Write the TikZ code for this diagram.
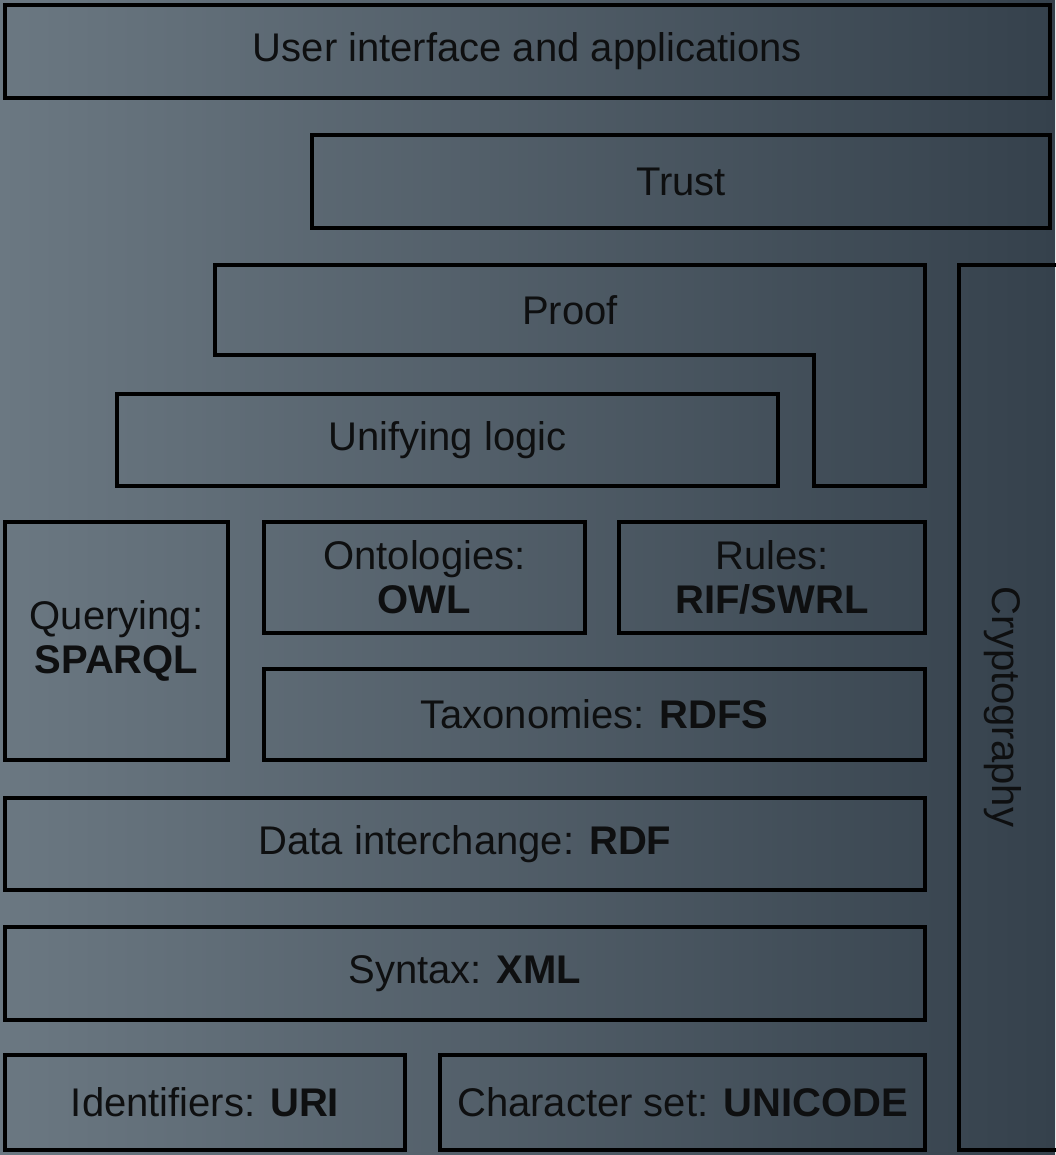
\documentclass[tikz,border=0pt]{standalone}
\usepackage{fontspec}
\setmainfont{Liberation Sans}

\definecolor{bglight}{HTML}{6B7882}
\definecolor{bgdark}{HTML}{35414C}
\definecolor{inkdark}{HTML}{0E0F10}

\begin{document}
\begin{tikzpicture} [x=0.5pt, y=-0.5pt,
   ink/.style = {text=inkdark, font=\fontsize{20}{22}\selectfont, align=center},
   layer/.style 2 args = {ink, draw=black, line width=2.2pt, inner sep=0pt,
                          minimum width=#1*0.5pt, minimum height=#2*0.5pt}]
   \useasboundingbox (0,0) rectangle (1055,1155);
   \shade[left color=bglight, right color=bgdark] (0,0) rectangle (1055,1155);

   \node (ui)[layer={1045}{93}] at (527.5,51.5) {User interface and applications};
   \node (trust)[layer={738}{93}] at (681,181.5) {Trust};

   % proof is an L shape round the unifying logic layer
   \draw[black, line width=2.2pt] (215,265) -| (925,486) -| (814,355) -| cycle;
   \node (proof)[ink] at (570,310) {Proof};
   \node (logic)[layer={661}{92}] at (447.5,440) {Unifying logic};

   \node (crypto)[layer={106}{885}] at (1012,707.5) {};
   \node (cryptolabel)[ink, rotate=-90] at (1003,707) {Cryptography};

   \node (query)[layer={223}{238}] at (116.5,641) {Querying:\\ \textbf{SPARQL}};
   \node (owl)[layer={321}{111}] at (424.5,577.5) {Ontologies:\\ \textbf{OWL}};
   \node (rules)[layer={306}{111}] at (772,577.5) {Rules:\\ \textbf{RIF/SWRL}};
   \node (rdfs)[layer={661}{91}] at (594.5,714.5) {Taxonomies: \textbf{RDFS}};
   \node (rdf)[layer={920}{92}] at (465,844) {Data interchange: \textbf{RDF}};
   \node (xml)[layer={920}{93}] at (465,973.5) {Syntax: \textbf{XML}};
   \node (uri)[layer={400}{95}] at (205,1102.5) {Identifiers: \textbf{URI}};
   \node (unicode)[layer={485}{95}] at (682.5,1102.5) {Character set: \textbf{UNICODE}};
\end{tikzpicture}
\end{document}
